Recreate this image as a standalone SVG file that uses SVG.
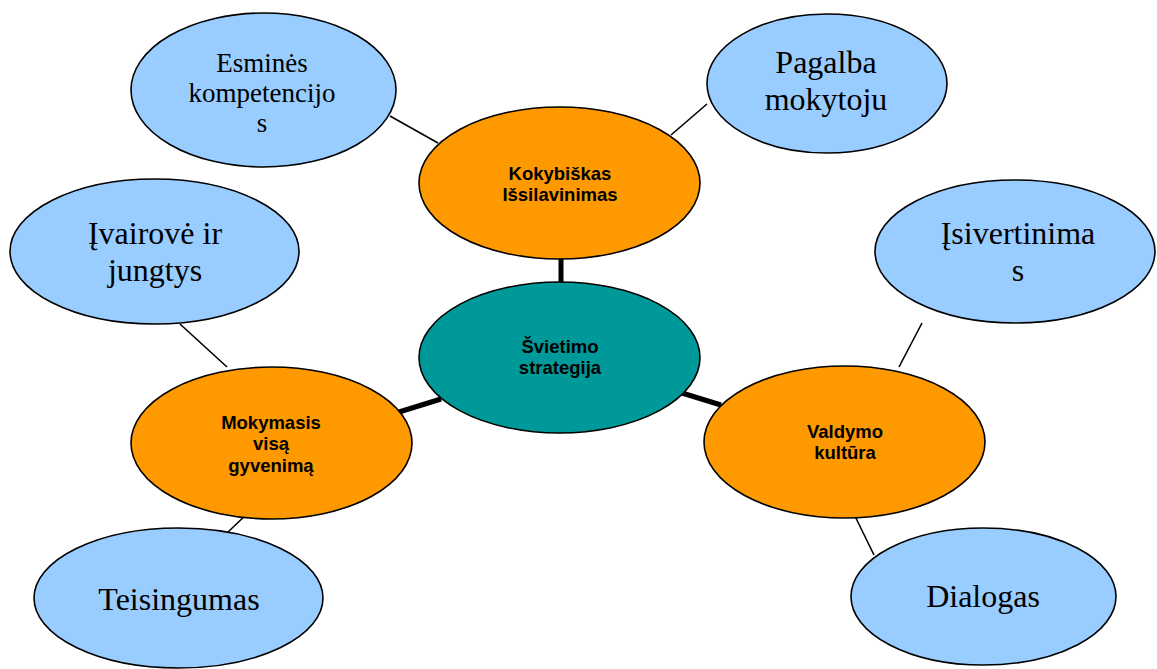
<svg xmlns="http://www.w3.org/2000/svg" width="1157" height="669" viewBox="0 0 1157 669">
<style>
.blue{fill:#99CCFF;stroke:#000;stroke-width:1.6}
.orange{fill:#FF9900;stroke:#000;stroke-width:1.6}
.teal{fill:#009999;stroke:#000;stroke-width:1.6}
.thin{stroke:#000;stroke-width:1.6;fill:none}
.thick{stroke:#000;stroke-width:5;fill:none}
.serif{font-family:"Liberation Serif","Times New Roman",serif;fill:#000;text-anchor:middle}
.bold{font-family:"Liberation Sans",Arial,sans-serif;font-weight:bold;font-size:18.5px;fill:#000;text-anchor:middle}
</style>
<rect width="1157" height="669" fill="#fff"/>
<g id="connectors">
<line class="thick" x1="561" y1="258" x2="561" y2="283"/>
<line class="thick" x1="399" y1="412" x2="441" y2="399"/>
<line class="thick" x1="682" y1="393" x2="721" y2="405"/>
<line class="thin" x1="390" y1="116" x2="438" y2="143"/>
<line class="thin" x1="671" y1="135" x2="707" y2="104"/>
<line class="thin" x1="180" y1="324" x2="227" y2="367"/>
<line class="thin" x1="251" y1="510" x2="227" y2="533"/>
<line class="thin" x1="922" y1="323" x2="899" y2="367"/>
<line class="thin" x1="852" y1="510" x2="874" y2="555"/>
</g>
<g id="esmines">
<ellipse class="blue" cx="263.5" cy="90" rx="132.5" ry="77"/>
<text class="serif" font-size="27" x="262" y="72">Esminės</text>
<text class="serif" font-size="27" x="262" y="102">kompetencijo</text>
<text class="serif" font-size="27" x="262" y="132">s</text>
</g>
<g id="pagalba">
<ellipse class="blue" cx="827" cy="83.5" rx="120" ry="69.5"/>
<text class="serif" font-size="32" x="826" y="73">Pagalba</text>
<text class="serif" font-size="32" x="826" y="110">mokytoju</text>
</g>
<g id="ivairove">
<ellipse class="blue" cx="154.5" cy="251.5" rx="144.5" ry="72.5"/>
<text class="serif" font-size="32" x="155" y="244">Įvairovė ir</text>
<text class="serif" font-size="32" x="155" y="281">jungtys</text>
</g>
<g id="isivertinimas">
<ellipse class="blue" cx="1015" cy="251.5" rx="140" ry="71.5"/>
<text class="serif" font-size="32" x="1018" y="244">Įsivertinima</text>
<text class="serif" font-size="32" x="1018" y="281">s</text>
</g>
<g id="teisingumas">
<ellipse class="blue" cx="178.5" cy="598" rx="144.5" ry="70"/>
<text class="serif" font-size="32" x="179" y="610">Teisingumas</text>
</g>
<g id="dialogas">
<ellipse class="blue" cx="983.5" cy="596.5" rx="132.5" ry="68.5"/>
<text class="serif" font-size="32" x="983" y="607">Dialogas</text>
</g>
<g id="kokybiskas">
<ellipse class="orange" cx="559.5" cy="183" rx="140.5" ry="76"/>
<text class="bold" x="560" y="180">Kokybiškas</text>
<text class="bold" x="560" y="201">Išsilavinimas</text>
</g>
<g id="strategija">
<ellipse class="teal" cx="559.5" cy="357.5" rx="140.5" ry="75.5"/>
<text class="bold" x="560" y="353">Švietimo</text>
<text class="bold" x="560" y="374">strategija</text>
</g>
<g id="mokymasis">
<ellipse class="orange" cx="271.5" cy="443" rx="140.5" ry="76"/>
<text class="bold" x="271" y="429">Mokymasis</text>
<text class="bold" x="271" y="450">visą</text>
<text class="bold" x="271" y="472">gyvenimą</text>
</g>
<g id="valdymo">
<ellipse class="orange" cx="844.5" cy="442" rx="140.5" ry="76"/>
<text class="bold" x="845" y="438">Valdymo</text>
<text class="bold" x="845" y="459">kultūra</text>
</g>
</svg>
